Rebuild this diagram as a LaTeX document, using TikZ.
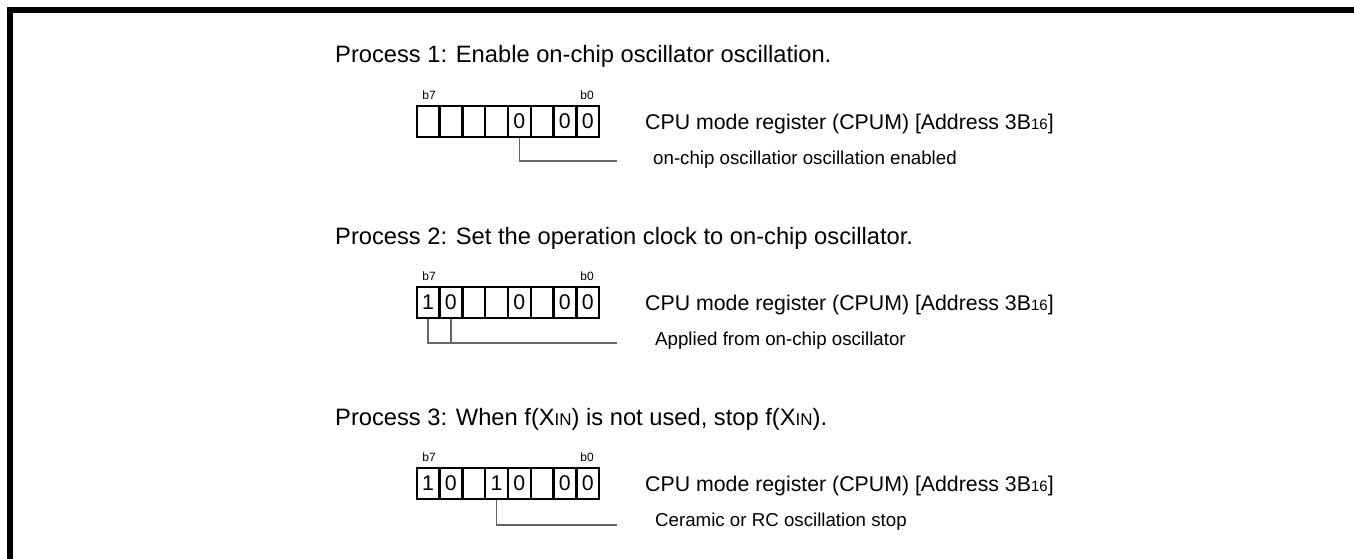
\documentclass[tikz,border=0pt]{standalone}
\usepackage{fontspec}
\setmainfont{Liberation Sans}
\newcommand\subsm[1]{{\fontsize{15}{15}\selectfont #1}}
\newcommand\insm[1]{{\fontsize{17}{17}\selectfont #1}}
\begin{document}
\begin{tikzpicture}[x=1pt,y=-1pt,
  title/.style={anchor=base west, inner sep=0, font=\fontsize{23.7}{28}\selectfont},
  regname/.style={anchor=base west, inner sep=0, font=\fontsize{21.3}{25}\selectfont},
  note/.style={anchor=base west, inner sep=0, font=\fontsize{18.7}{22}\selectfont},
  bitlbl/.style={anchor=base, inner sep=0, font=\fontsize{12}{14}\selectfont},
  cell/.style={draw, line width=2.4pt, minimum width=22.8pt, minimum height=31pt, inner sep=0, font=\fontsize{21.3}{25}\selectfont},
  leader/.style={draw=black!60, line width=1.3pt},
  framebar/.style={line width=6pt}]
\useasboundingbox (0,0) rectangle (1354,559);
\draw[framebar] (9.5,559) -- (9.5,10) -- (1354,10);

% Process 1
\node[title] (t0) at (335,63) {Process 1: Enable on-chip oscillator oscillation.};
\node[bitlbl] (b7a) at (429,99.3) {b7};
\node[bitlbl] (b0a) at (587,99.3) {b0};
\foreach \i/\b in {0/{},1/{},2/{},3/{},4/0,5/{},6/0,7/0}
  \node[cell] (r0c\i) at (428.1+22.8*\i,121.5) {\b};
\node[regname] (n0) at (645,129) {CPU mode register (CPUM) [Address 3B\subsm{16}]};
\node[note] (m0) at (653,164.5) {on-chip oscillatior oscillation enabled};
\coordinate (e0) at (617,161);
\draw[leader] (r0c4.south) |- (e0);

% Process 2
\node[title] (t1) at (335,244) {Process 2: Set the operation clock to on-chip oscillator.};
\node[bitlbl] (b7b) at (429,280.3) {b7};
\node[bitlbl] (b0b) at (587,280.3) {b0};
\foreach \i/\b in {0/1,1/0,2/{},3/{},4/0,5/{},6/0,7/0}
  \node[cell] (r1c\i) at (428.1+22.8*\i,302.5) {\b};
\node[regname] (n1) at (645,310) {CPU mode register (CPUM) [Address 3B\subsm{16}]};
\node[note] (m1) at (655,345.5) {Applied from on-chip oscillator};
\coordinate (e1) at (617,343);
\draw[leader] (r1c0.south) |- (e1);
\draw[leader] (r1c1.south) -- (r1c1.south |- e1);

% Process 3
\node[title] (t2) at (335,425) {Process 3: When f(X\insm{IN}) is not used, stop f(X\insm{IN}).};
\node[bitlbl] (b7c) at (429,461.3) {b7};
\node[bitlbl] (b0c) at (587,461.3) {b0};
\foreach \i/\b in {0/1,1/0,2/{},3/1,4/0,5/{},6/0,7/0}
  \node[cell] (r2c\i) at (428.1+22.8*\i,483.5) {\b};
\node[regname] (n2) at (645,491) {CPU mode register (CPUM) [Address 3B\subsm{16}]};
\node[note] (m2) at (655,526.5) {Ceramic or RC oscillation stop};
\coordinate (e2) at (617,525);
\draw[leader] (r2c3.south) |- (e2);
\end{tikzpicture}
\end{document}
